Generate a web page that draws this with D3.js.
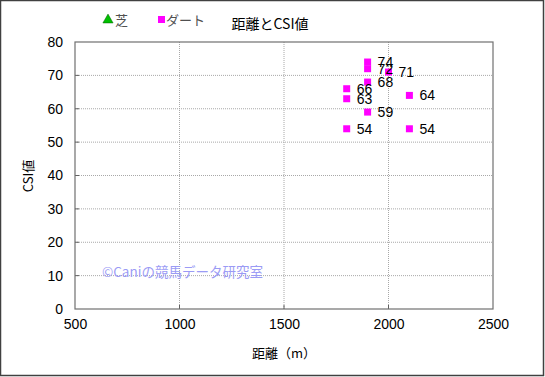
<!doctype html>
<html>
<head>
  <meta charset="utf-8">
  <script src="https://cdnjs.cloudflare.com/ajax/libs/d3/7.8.5/d3.min.js"></script>
  <style>
    body { margin: 0; background: #fff; }
    text { font-family: "Liberation Sans", Arial, "Noto Sans CJK JP", sans-serif; }
  </style>
</head>
<body>
<svg id="chart" width="545" height="377"></svg>
<script>
// ダート data: distance (m) and CSI
const dirtDistance = [1900, 1900, 1900, 1900, 2000, 1800, 1800, 1800, 2100, 2100];
const dirtCSI      = [74,   72,   68,   59,   71,   66,   63,   54,   64,   54];
// 芝 has no points in this chart
const turfDistance = [];
const turfCSI = [];
const xTicks = [500, 1000, 1500, 2000, 2500];
const yTicks = [0, 10, 20, 30, 40, 50, 60, 70, 80];

const svg = d3.select("#chart");
const plotL = 75, plotR = 493, plotT = 42, plotB = 309;

// outer frame
svg.append("rect").attr("x", 0.5).attr("y", 0.5).attr("width", 543).attr("height", 375)
  .attr("fill", "#fff").attr("stroke", "#404040").attr("stroke-width", 1.5);

const x = d3.scaleLinear().domain([500, 2500]).range([plotL, plotR]);
const y = d3.scaleLinear().domain([0, 80]).range([plotB, plotT]);

// gridlines
svg.append("g").selectAll("line.vx")
  .data(xTicks.slice(1, -1)).enter().append("line")
  .attr("x1", d => x(d)).attr("x2", d => x(d))
  .attr("y1", plotT).attr("y2", plotB)
  .attr("stroke", "#a8a8a8").attr("stroke-dasharray", "1,1");
svg.append("g").selectAll("line.hy")
  .data(yTicks.slice(1, -1)).enter().append("line")
  .attr("x1", plotL).attr("x2", plotR)
  .attr("y1", d => y(d)).attr("y2", d => y(d))
  .attr("stroke", "#a8a8a8").attr("stroke-dasharray", "1,1");

// small inner tick marks
svg.append("g").selectAll("line.tx")
  .data(xTicks.slice(1, -1)).enter().append("line")
  .attr("x1", d => x(d)).attr("x2", d => x(d))
  .attr("y1", plotB - 4).attr("y2", plotB)
  .attr("stroke", "#606060");
svg.append("g").selectAll("line.ty")
  .data(yTicks.slice(1, -1)).enter().append("line")
  .attr("x1", plotL).attr("x2", plotL + 4)
  .attr("y1", d => y(d)).attr("y2", d => y(d))
  .attr("stroke", "#606060");

// plot frame
svg.append("rect").attr("x", plotL).attr("y", plotT)
  .attr("width", plotR - plotL).attr("height", plotB - plotT)
  .attr("fill", "none").attr("stroke", "#707070").attr("stroke-width", 1.2);

// axes
const xAxis = d3.axisBottom(x).tickValues(xTicks).tickFormat(d3.format("d")).tickSize(0).tickPadding(10);
svg.append("g").attr("transform", `translate(0,${plotB})`).call(xAxis)
  .call(g => g.select(".domain").remove())
  .selectAll("text").attr("font-size", 14).attr("fill", "#000")
  .style("font-family", "'Liberation Sans', Arial, sans-serif");
const yAxis = d3.axisLeft(y).tickValues(yTicks).tickSize(0).tickPadding(12);
svg.append("g").attr("transform", `translate(${plotL},0)`).call(yAxis)
  .call(g => g.select(".domain").remove())
  .selectAll("text").attr("font-size", 14).attr("fill", "#000")
  .style("font-family", "'Liberation Sans', Arial, sans-serif");

// watermark
svg.append("text").attr("x", 102).attr("y", 277)
  .attr("font-size", 13.5).attr("fill", "#9b9bf5")
  .style("font-family", "'Noto Sans CJK JP', sans-serif")
  .text("©Caniの競馬データ研究室");

// points
const dirt = dirtDistance.map((d, i) => ({ dist: d, csi: dirtCSI[i] }));
svg.append("g").selectAll("rect.dirt")
  .data(dirt).enter().append("rect")
  .attr("x", d => x(d.dist) - 3.5).attr("y", d => y(d.csi) - 3.5)
  .attr("width", 7).attr("height", 7).attr("fill", "#ff00ff");
svg.append("g").selectAll("text.lbl")
  .data(dirt).enter().append("text")
  .attr("x", d => x(d.dist) + 10).attr("y", d => y(d.csi) + 5)
  .attr("font-size", 14).attr("fill", "#000")
  .text(d => d.csi);

const turf = turfDistance.map((d, i) => ({ dist: d, csi: turfCSI[i] }));
svg.append("g").selectAll("path.turf")
  .data(turf).enter().append("path")
  .attr("d", d3.symbol(d3.symbolTriangle, 40))
  .attr("transform", d => `translate(${x(d.dist)},${y(d.csi)})`)
  .attr("fill", "#00cc00");

// legend
svg.append("path").attr("d", d3.symbol(d3.symbolTriangle, 45))
  .attr("transform", "translate(108,20)").attr("fill", "#00c000").attr("stroke", "#006000").attr("stroke-width", 0.5);
svg.append("text").attr("x", 115).attr("y", 25).attr("font-size", 13).attr("fill", "#505050")
  .style("font-family", "'Noto Sans CJK JP', sans-serif").text("芝");
svg.append("rect").attr("x", 158).attr("y", 16).attr("width", 7).attr("height", 7).attr("fill", "#ff00ff");
svg.append("text").attr("x", 166).attr("y", 25).attr("font-size", 13).attr("fill", "#505050")
  .style("font-family", "'Noto Sans CJK JP', sans-serif").text("ダート");

// title
svg.append("text").attr("x", 270).attr("y", 29).attr("text-anchor", "middle")
  .attr("font-size", 14).attr("fill", "#000")
  .style("font-family", "'Noto Sans CJK JP', sans-serif").text("距離とCSI値");

// axis titles
svg.append("text").attr("x", 284).attr("y", 358).attr("text-anchor", "middle")
  .attr("font-size", 13).attr("fill", "#000")
  .style("font-family", "'Noto Sans CJK JP', sans-serif").text("距離（m）");
svg.append("text").attr("transform", "translate(33,176) rotate(-90)").attr("text-anchor", "middle")
  .attr("font-size", 13).attr("fill", "#000")
  .style("font-family", "'Noto Sans CJK JP', sans-serif").text("CSI値");
</script>
</body>
</html>
